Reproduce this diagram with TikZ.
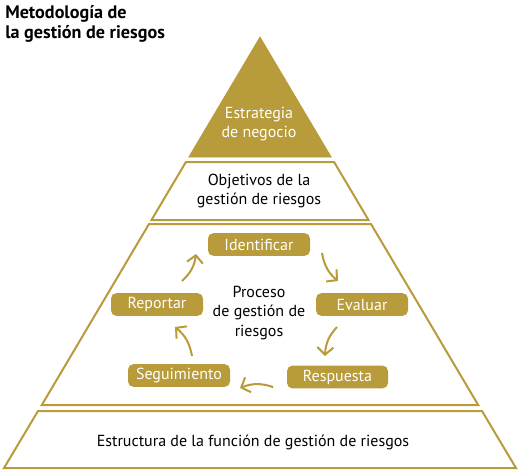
\documentclass[tikz,border=0pt]{standalone}
\usepackage{fontspec}
\setmainfont{PT Sans}
\usetikzlibrary{arrows.meta}
\definecolor{gold}{RGB}{184,155,58}
\begin{document}
\begin{tikzpicture}[x=0.75pt,y=-0.75pt,
  band/.style={draw=gold,line width=1.5pt},
  lbl/.style={align=center,font=\fontsize{12}{14.5}\selectfont,inner sep=0pt},
  stepbox/.style={fill=gold,rounded corners=4pt,text=white,minimum height=17pt,inner sep=0pt,font=\fontsize{12}{13}\selectfont},
  cyc/.style={draw=gold,line width=1.5pt,-{Straight Barb[length=5.5pt,width=12pt]}}
]
\useasboundingbox (0,0) rectangle (526,472);
% pyramid
\fill[gold,draw=gold,line width=0.5pt] (260,37) -- (331.2,157) -- (188.8,157) -- cycle;
\draw[band] (185.9,162) -- (334.1,162) -- (368.5,220) -- (151.5,220) -- cycle;
\draw[band] (149,224) -- (371,224) -- (478.2,405) -- (41.8,405) -- cycle;
\draw[band] (38,411) -- (482,411) -- (516,468) -- (4,468) -- cycle;
% title
\node[anchor=north west,align=left,inner sep=0pt,font=\bfseries\fontsize{13.6}{15}\selectfont] (title) at (5,5) {Metodología de\\la gestión de riesgos};
% labels
\node[lbl,text=white] (strat) at (259,124) {Estrategia\\de negocio};
\node[lbl] (obj) at (259,191) {Objetivos de la\\gestión de riesgos};
\node[lbl] (proc) at (259,313) {Proceso\\de gestión de\\riesgos};
\node[lbl] (estr) at (253,442) {Estructura de la función de gestión de riesgos};
% cycle boxes
\node[stepbox,minimum width=76.5pt] (ident) at (259,244.5) {Identificar};
\node[stepbox,minimum width=69pt] (eval) at (362,304.5) {Evaluar};
\node[stepbox,minimum width=75.75pt] (resp) at (337.5,377) {Respuesta};
\node[stepbox,minimum width=76.5pt] (seg) at (179,375.5) {Seguimiento};
\node[stepbox,minimum width=69pt] (rep) at (157,304.5) {Reportar};
% arrows
\coordinate (a1s) at (322,253); \coordinate (a1e) at (338,281);
\coordinate (a2s) at (337,327); \coordinate (a2e) at (325,356);
\coordinate (a3s) at (273,387); \coordinate (a3e) at (240,388);
\coordinate (a4s) at (192,356); \coordinate (a4e) at (175,327);
\coordinate (a5s) at (182,281); \coordinate (a5e) at (196,254);
\draw[cyc] (a1s) to[bend right=20] (a1e);
\draw[cyc] (a2s) to[bend right=20] (a2e);
\draw[cyc] (a3s) to[bend right=20] (a3e);
\draw[cyc] (a4s) to[bend right=20] (a4e);
\draw[cyc] (a5s) to[bend right=20] (a5e);
\end{tikzpicture}
\end{document}
